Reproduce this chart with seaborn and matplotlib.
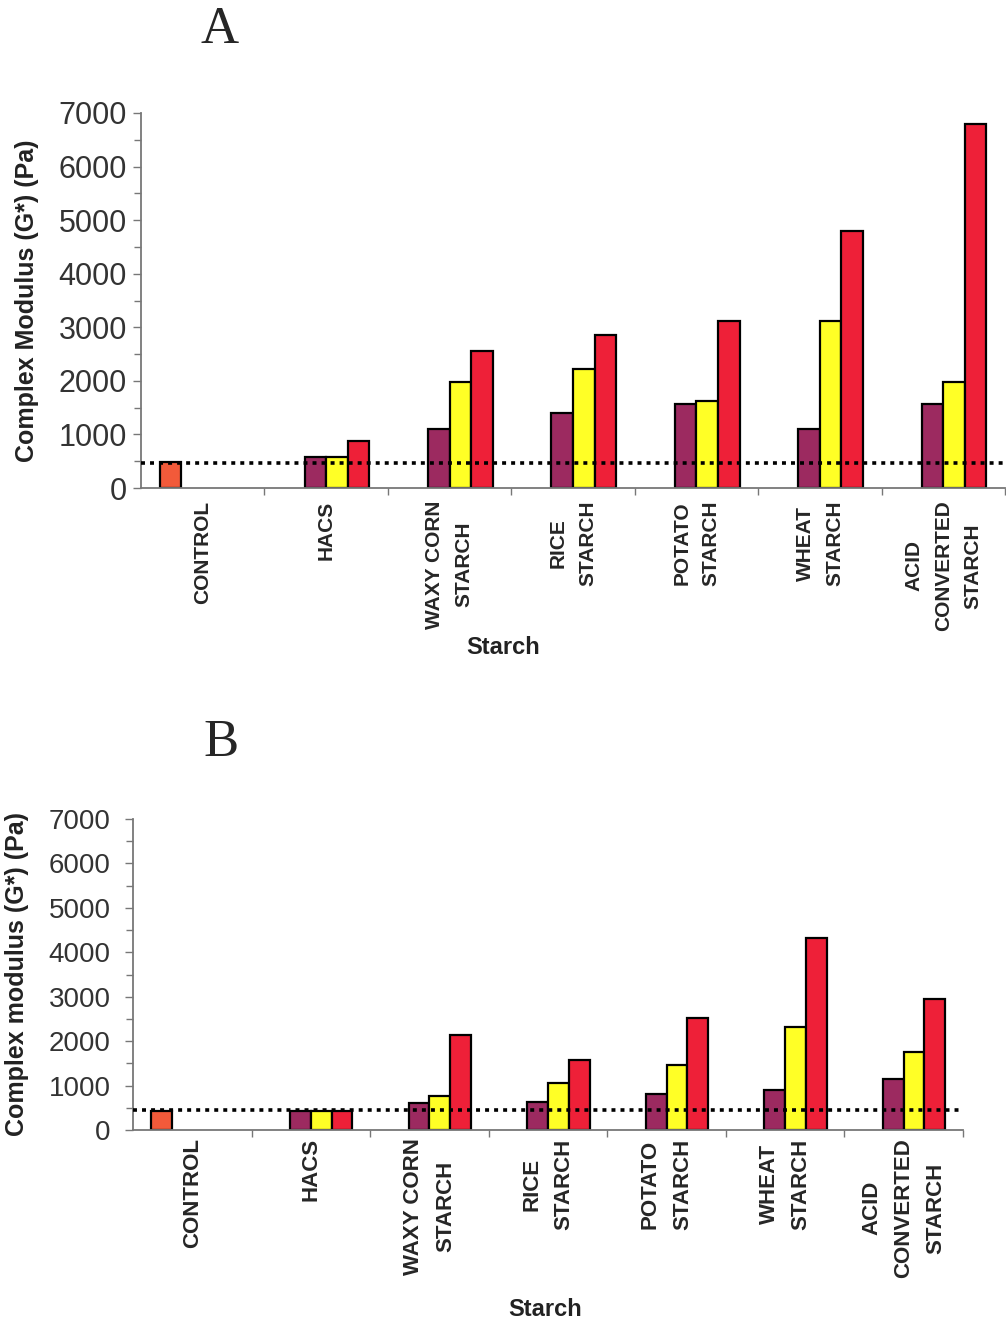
import numpy as np
import pandas as pd
import matplotlib
matplotlib.use("Agg")
import matplotlib.pyplot as plt
import seaborn as sns

# categories (x tick labels)
starches = ["CONTROL", "HACS", "WAXY CORN\nSTARCH", "RICE\nSTARCH",
            "POTATO\nSTARCH", "WHEAT\nSTARCH", "ACID\nCONVERTED\nSTARCH"]
series = ["control", "s1", "s2", "s3"]

# panel A values (Pa)
a_control = [490, None, None, None, None, None, None]
a_s1 = [None, 570, 1100, 1400, 1570, 1100, 1570]
a_s2 = [None, 570, 1970, 2230, 1620, 3110, 1980]
a_s3 = [None, 880, 2560, 2860, 3110, 4800, 6800]
a_ref = 475

# panel B values (Pa)
b_control = [430, None, None, None, None, None, None]
b_s1 = [None, 430, 610, 630, 810, 900, 1150]
b_s2 = [None, 430, 770, 1060, 1460, 2320, 1760]
b_s3 = [None, 430, 2140, 1575, 2530, 4320, 2950]
b_ref = 450

colors = ["#F25A3A", "#9C2A60", "#FFFF26", "#EE2038"]


def long_df(ctrl, s1, s2, s3):
    rows = []
    for name, vals in zip(series, [ctrl, s1, s2, s3]):
        for cat, v in zip(starches, vals):
            rows.append({"starch": cat, "series": name,
                         "value": np.nan if v is None else v})
    return pd.DataFrame(rows)


sns.set_style("white")
plt.rcParams["font.family"] = ["Liberation Sans", "DejaVu Sans"]

fig = plt.figure(figsize=(10.06, 13.29), dpi=100)
ax_a = fig.add_axes([141 / 1006, 1 - 488 / 1329, 864 / 1006, 375 / 1329])
ax_b = fig.add_axes([133 / 1006, 1 - 1130 / 1329, 830 / 1006, 311 / 1329])


def draw(ax, df, ref, ylabel, tick_fs, tick_pad, lab_fs, ylab_fs, pad,
         ylab_x, xlab_xy):
    sns.barplot(data=df, x="starch", y="value", hue="series", hue_order=series,
                order=starches, palette=colors, width=0.7, errorbar=None,
                edgecolor="black", linewidth=1.6, saturation=1, legend=False, ax=ax)
    ax.axhline(ref, color="black", lw=2.6, ls=(0, (1.1, 1.4)), zorder=5)
    ax.set_xlim(-0.5, 6.5)
    ax.set_ylim(0, 7000)
    ax.set_yticks(np.arange(0, 7001, 1000))
    ax.set_yticks(np.arange(500, 7000, 1000), minor=True)
    ax.set_xticks(range(len(starches)))
    ax.set_xticks(np.arange(0.5, 7, 1), minor=True)
    ax.set_xticklabels(starches, rotation=90, fontweight="bold", fontsize=lab_fs,
                       linespacing=1.7, ma="center", va="top", ha="center")
    ax.tick_params(axis="x", which="major", length=0, pad=pad)
    ax.tick_params(axis="x", which="minor", length=5, width=1, color="#777777",
                   direction="out", bottom=True)
    ax.tick_params(axis="y", which="major", length=6, width=1, color="#777777",
                   labelsize=tick_fs, labelcolor="#333333", pad=tick_pad, left=True)
    ax.tick_params(axis="y", which="minor", length=5, width=1, color="#777777",
                   left=True)
    for s in ["top", "right"]:
        ax.spines[s].set_visible(False)
    for s in ["left", "bottom"]:
        ax.spines[s].set_color("#777777")
        ax.spines[s].set_linewidth(1.3)
    ax.set_ylabel(ylabel, fontweight="bold", fontsize=ylab_fs, color="#222222")
    ax.yaxis.set_label_coords(ylab_x, 0.5)
    ax.set_xlabel("Starch", fontweight="bold", fontsize=17, color="#222222")
    ax.xaxis.set_label_coords(*xlab_xy)


draw(ax_a, long_df(a_control, a_s1, a_s2, a_s3), a_ref,
     "Complex Modulus (G*) (Pa)", 22, 4, 15, 18, 9,
     -0.118, ((503 - 141) / 864, (488 - 636) / 375))
draw(ax_b, long_df(b_control, b_s1, b_s2, b_s3), b_ref,
     "Complex modulus (G*) (Pa)", 20, 10, 16, 18, 6,
     -0.125, ((545 - 133) / 830, (1130 - 1298) / 311))

fig.text(220 / 1006, 1 - 43 / 1329, "A", ha="center", va="baseline",
         family="Liberation Serif", fontsize=38)
fig.text(221 / 1006, 1 - 756 / 1329, "B", ha="center", va="baseline",
         family="Liberation Serif", fontsize=38)

fig.savefig("out.png", dpi=100, facecolor="white")
